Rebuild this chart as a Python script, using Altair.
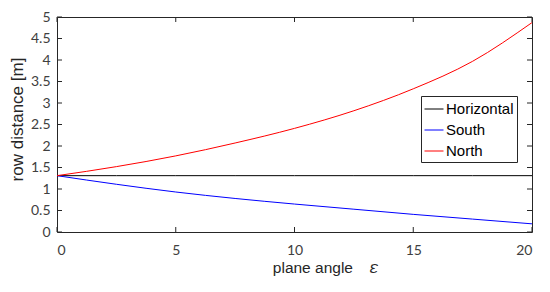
import altair as alt
import pandas as pd

angles = [0, 2.5, 5, 7.5, 10, 12.5, 15, 17.5, 20]
horizontal = [1.31, 1.31, 1.31, 1.31, 1.31, 1.31, 1.31, 1.31, 1.31]
south = [1.31, 1.11, 0.93, 0.78, 0.65, 0.53, 0.41, 0.30, 0.19]
north = [1.31, 1.52, 1.77, 2.07, 2.41, 2.82, 3.33, 3.97, 4.87]
series = ["Horizontal", "South", "North"]
colors = ["#000000", "#0000FF", "#FF0000"]
x_ticks = [0, 5, 10, 15, 20]
y_ticks = [0, 0.5, 1, 1.5, 2, 2.5, 3, 3.5, 4, 4.5, 5]

W, H, TL = 475, 215, 5

rows = []
for name, vals in zip(series, [horizontal, south, north]):
    for a, v in zip(angles, vals):
        rows.append({"angle": a, "distance": v, "series": name})
df = pd.DataFrame(rows)
xt = pd.DataFrame({"v": x_ticks})
yt = pd.DataFrame({"v": y_ticks})

AX = "#262626"
xscale = alt.Scale(domain=[0, 20], nice=False, zero=False)
yscale = alt.Scale(domain=[0, 5], nice=False, zero=False)

common = dict(offset=0, tickSize=0, ticks=False, domain=False, grid=False,
              labelColor="#404040", labelFont="Lato", labelFontSize=14,
              titleColor=AX, titleFont="Liberation Sans", titleFontWeight="normal",
              format=".1~f")

lines = alt.Chart(df).mark_line(strokeWidth=1, interpolate="monotone", clip=True).encode(
    x=alt.X("angle:Q", scale=xscale,
            axis=alt.Axis(orient="bottom", values=x_ticks, labelPadding=11,
                          title="plane angle\u00a0\u00a0\u00a0\u00a0\U0001D700", titleFontSize=15.5,
                          titleX=268, titlePadding=3, **common)),
    y=alt.Y("distance:Q", scale=yscale,
            axis=alt.Axis(orient="left", values=y_ticks, labelPadding=7,
                          labelBaseline="middle", title="row distance [m]", titleFontSize=17,
                          titlePadding=4, titleY=102, **common)),
    color=alt.Color("series:N", sort=series,
                    scale=alt.Scale(domain=series, range=colors),
                    legend=alt.Legend(orient="none", legendX=364, legendY=79, title=None,
                                      symbolType="stroke", symbolSize=361, symbolStrokeWidth=1,
                                      labelFont="Liberation Sans", labelFontSize=15,
                                      labelColor="#000000", labelOffset=2,
                                      rowPadding=3, padding=3,
                                      strokeColor=AX, fillColor="#FFFFFF")),
)

tick_style = dict(color=AX, strokeWidth=1)
bottom_ticks = alt.Chart(xt).mark_rule(**tick_style).encode(
    x=alt.X("v:Q", scale=xscale, axis=None), y=alt.value(H), y2=alt.value(H - TL))
top_ticks = alt.Chart(xt).mark_rule(**tick_style).encode(
    x=alt.X("v:Q", scale=xscale, axis=None), y=alt.value(0), y2=alt.value(TL))
left_ticks = alt.Chart(yt).mark_rule(**tick_style).encode(
    y=alt.Y("v:Q", scale=yscale, axis=None), x=alt.value(0), x2=alt.value(TL))
right_ticks = alt.Chart(yt).mark_rule(**tick_style).encode(
    y=alt.Y("v:Q", scale=yscale, axis=None), x=alt.value(W), x2=alt.value(W - TL))

chart = alt.layer(lines, bottom_ticks, top_ticks, left_ticks, right_ticks).resolve_axis(
    x="independent", y="independent"
).properties(
    width=W, height=H,
    padding={"left": 49, "top": 9, "right": 10, "bottom": 52},
    autosize=alt.AutoSizeParams(type="none"),
    background="#FFFFFF",
).configure_view(stroke=AX, strokeWidth=1)

chart.save("out.html", embed_options={"renderer": "svg", "actions": False})
